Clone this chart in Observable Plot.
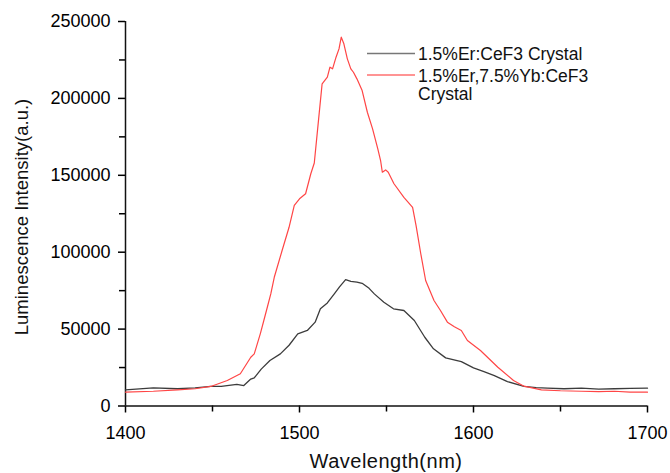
<!DOCTYPE html>
<html>
<head>
<meta charset="utf-8">
<script src="https://cdn.jsdelivr.net/npm/d3@7"></script>
<script src="https://cdn.jsdelivr.net/npm/@observablehq/plot@0.6"></script>
<style>
  html, body { margin: 0; padding: 0; background: #fff; }
  #chart { position: relative; width: 670px; height: 473px; }
  svg text { font-family: "Liberation Sans", Arial, sans-serif; }
</style>
</head>
<body>
<div id="chart"></div>
<script>
// Series 1: 1.5%Er:CeF3 Crystal (black)
const erWl  = [1400, 1416, 1430, 1440, 1449, 1455, 1464, 1468, 1472, 1474, 1478, 1483, 1489, 1494, 1499, 1504.5, 1509, 1512, 1516, 1520, 1523, 1526.5, 1529.5, 1533, 1536, 1540, 1543, 1548.5, 1554, 1560, 1566, 1572, 1577, 1584, 1593, 1600, 1606, 1612, 1619.5, 1629, 1636, 1642.5, 1652, 1662, 1672, 1681, 1690, 1700];
const erVal = [10500, 11800, 11200, 11800, 12700, 12700, 14000, 13300, 17500, 18300, 24000, 29600, 33900, 39500, 46900, 49100, 54500, 63200, 67000, 72900, 77500, 82200, 81100, 80500, 79800, 76500, 72900, 67500, 63200, 62100, 55600, 44700, 37200, 31300, 28900, 24800, 22300, 19800, 15900, 12700, 12000, 11600, 11200, 11600, 11000, 11200, 11400, 11600];
// Series 2: 1.5%Er,7.5%Yb:CeF3 Crystal (red)
const ybWl  = [1400, 1416, 1430, 1440, 1449, 1458.5, 1466, 1472, 1474, 1477.5, 1479.5, 1481.5, 1483.5, 1485.5, 1490, 1494, 1497, 1500, 1503.5, 1506.5, 1508.5, 1511, 1513, 1516, 1517.5, 1519, 1521, 1522.7, 1524, 1525.5, 1527.5, 1529.5, 1531, 1533, 1536, 1539, 1542, 1545, 1546.6, 1547.6, 1549.5, 1551, 1554.3, 1560, 1565, 1567, 1569.7, 1572.5, 1577.3, 1581, 1585, 1589, 1593, 1596.5, 1604, 1614, 1623, 1629, 1639, 1650, 1662, 1672, 1681, 1690, 1698, 1700];
const ybVal = [9000, 9600, 10500, 11200, 12700, 16600, 21000, 31700, 33900, 47100, 55600, 64200, 72900, 83700, 101100, 116200, 130400, 134700, 138000, 151000, 158000, 186700, 209500, 213800, 220300, 219200, 226800, 232200, 239800, 235500, 225700, 219200, 217000, 212700, 205100, 191000, 180200, 167200, 159600, 152000, 153500, 152000, 144500, 135700, 129200, 117300, 99000, 81600, 68600, 62100, 54500, 51500, 49100, 42600, 36100, 25200, 16600, 12900, 10500, 9900, 9600, 9300, 9600, 9000, 9000, 9000];

const xTicks = [1400, 1500, 1600, 1700];
const xMinor = [1450, 1550, 1650];
const yTicks = [0, 50000, 100000, 150000, 200000, 250000];
const yMinor = [25000, 75000, 125000, 175000, 225000];

const seriesNames = ["1.5%Er:CeF3 Crystal", "1.5%Er,7.5%Yb:CeF3 Crystal"];
const seriesColors = ["#3c3c3c", "#ff4545"];

const erData = erWl.map((w, i) => ({w, v: erVal[i]}));
const ybData = ybWl.map((w, i) => ({w, v: ybVal[i]}));

const font = '"Liberation Sans", Arial, sans-serif';

const plot = Plot.plot({
  width: 670,
  height: 473,
  marginLeft: 125,
  marginRight: 23,
  marginTop: 21,
  marginBottom: 67.5,
  style: {fontFamily: font, background: "#fff", color: "#000", overflow: "visible"},
  x: {domain: [1400, 1700]},
  y: {domain: [0, 250000]},
  marks: [
    Plot.axisX({ticks: xTicks, tickSize: 7, tickPadding: 13, tickFormat: d => String(d), label: null, fontSize: 18, strokeWidth: 1.5, style: {letterSpacing: "0.4px"}}),
    Plot.axisX({ticks: xMinor, tickSize: 6, text: null, label: null, strokeWidth: 1.5}),
    Plot.axisY({ticks: yTicks, tickSize: 7, tickPadding: 8, tickFormat: d => String(d), label: null, fontSize: 18, strokeWidth: 1.5, style: {letterSpacing: "0.4px"}}),
    Plot.axisY({ticks: yMinor, tickSize: 6, text: null, label: null, strokeWidth: 1.5}),
    Plot.ruleY([0], {stroke: "#111", strokeWidth: 1.5}),
    Plot.ruleX([1400], {stroke: "#111", strokeWidth: 1.5}),
    Plot.line(erData, {x: "w", y: "v", stroke: seriesColors[0], strokeWidth: 1.3, curve: "linear"}),
    Plot.line(ybData, {x: "w", y: "v", stroke: seriesColors[1], strokeWidth: 1.2, curve: "linear"})
  ]
});

document.getElementById("chart").appendChild(plot);

const svg = d3.select(plot);
// axis titles
svg.append("text")
  .attr("x", 386).attr("y", 468)
  .attr("text-anchor", "middle")
  .attr("font-size", 20).attr("letter-spacing", "0.5px")
  .attr("fill", "#111")
  .text("Wavelength(nm)");
svg.append("text")
  .attr("transform", "translate(28,217) rotate(-90)")
  .attr("text-anchor", "middle")
  .attr("font-size", 18.5)
  .attr("fill", "#111")
  .text("Luminescence Intensity(a.u.)");

// legend
const lg = svg.append("g").attr("font-size", 17.5).attr("fill", "#111").attr("text-anchor", "start");
lg.append("line").attr("x1", 367).attr("x2", 415).attr("y1", 53.5).attr("y2", 53.5)
  .attr("stroke", "#777").attr("stroke-width", 1.4);
lg.append("text").attr("x", 418).attr("y", 60).text(seriesNames[0]);
lg.append("line").attr("x1", 367).attr("x2", 415).attr("y1", 75).attr("y2", 75)
  .attr("stroke", "#ff7070").attr("stroke-width", 1.4);
const parts = seriesNames[1].split(" ");
lg.append("text").attr("x", 418).attr("y", 81.5).text(parts[0]);
lg.append("text").attr("x", 418).attr("y", 100).text(parts[1]);
</script>
</body>
</html>
